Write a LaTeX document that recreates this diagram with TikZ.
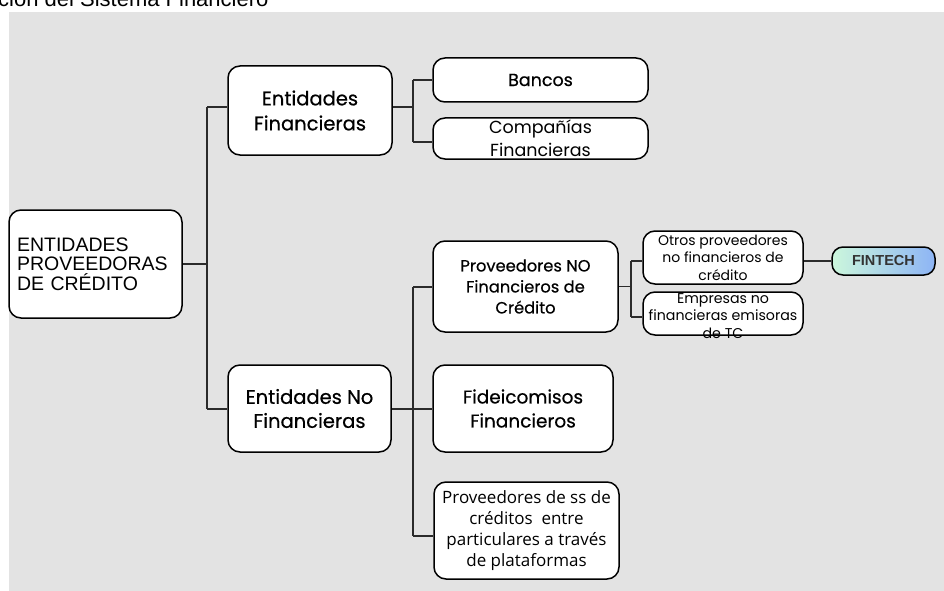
\documentclass[tikz,border=0pt]{standalone}
\usepackage{fontspec}
\setmainfont{Liberation Sans}
\newfontfamily\pop{Poppins}
\newfontfamily\popm[FakeBold=0.5]{Poppins}
\newfontfamily\osans{Open Sans}
\definecolor{bggray}{HTML}{E3E3E3}
\definecolor{linec}{HTML}{2B2B2B}
\definecolor{mint}{HTML}{CCF7DC}
\definecolor{skyb}{HTML}{8DB4F5}
\definecolor{txtd}{HTML}{333333}
\begin{document}
\begin{tikzpicture}[x=1pt,y=-1pt,
  box/.style={draw=black, line width=1.5pt, fill=white, rounded corners=12pt, inner sep=0pt, align=center},
  conn/.style={draw=linec, line width=1.8pt}]
\useasboundingbox (0,0) rectangle (944,591);
\fill[bggray] (9,12) rectangle (944,591);
\node[anchor=base west, inner sep=0pt, font=\fontsize{22}{26}\selectfont] (title) at (-2,7) {ción del Sistema Financiero};

\node[box, minimum width=173pt, minimum height=108pt, text width=157pt, align=left, font=\fontsize{19.5}{19.5}\selectfont] (root) at (95.5,264) {ENTIDADES\\PROVEEDORAS\\DE CRÉDITO};
\node[box, minimum width=164pt, minimum height=89pt, font=\popm\fontsize{19.5}{25}\selectfont] (EF) at (310,110.5) {Entidades\\Financieras};
\node[box, minimum width=163pt, minimum height=87pt, font=\popm\fontsize{19.5}{24}\selectfont] (EN) at (309.5,408.5) {Entidades No\\Financieras};
\node[box, minimum width=215pt, minimum height=44pt, font=\popm\fontsize{17.5}{22}\selectfont] (BA) at (540.5,80) {Bancos};
\node[box, minimum width=215pt, minimum height=41pt, font=\pop\fontsize{17.5}{23}\selectfont] (CF) at (540.5,138.5) {Compañías\\Financieras};
\node[box, minimum width=185pt, minimum height=91pt, font=\popm\fontsize{16.3}{21}\selectfont] (PNO) at (525.5,286.5) {Proveedores NO\\Financieros de\\Crédito};
\node[box, minimum width=180pt, minimum height=87pt, font=\popm\fontsize{18.5}{24}\selectfont] (FID) at (523,408.5) {Fideicomisos\\Financieros};
\node[box, minimum width=185pt, minimum height=97pt, font=\osans\fontsize{17}{21}\selectfont] (PSS) at (526.5,530.5) {Proveedores de ss de\\créditos\ \ entre\\particulares a través\\de plataformas};
\node[box, minimum width=160pt, minimum height=53pt, font=\pop\fontsize{14}{17.5}\selectfont] (OT) at (723,257.5) {Otros proveedores\\no financieros de\\crédito};
\node[box, minimum width=160pt, minimum height=43pt] (EM) at (723,313.5) {};
\node[inner sep=0pt, align=center, font=\pop\fontsize{14.2}{17.5}\selectfont] (EMt) at (723,316) {Empresas no\\financieras emisoras\\de TC};
\node[box, minimum width=103pt, minimum height=28pt, rounded corners=11pt, left color=mint, right color=skyb, text=txtd, font=\bfseries\fontsize{14.5}{16}\selectfont] (FIN) at (883.5,261) {FINTECH};

% junctions
\coordinate (t1a) at (207,107);
\coordinate (t1b) at (207,409);
\coordinate (t2a) at (413,80);
\coordinate (t2b) at (413,142);
\coordinate (t3a) at (413,287);
\coordinate (t3b) at (413,536);
\coordinate (t4a) at (631,261);
\coordinate (t4b) at (631,317);

\draw[conn] (root.east) -- (root.east -| t1a);
\draw[conn] (t1a) -- (t1b);
\draw[conn] (t1a) -- (t1a -| EF.west);
\draw[conn] (t1b) -- (t1b -| EN.west);

\draw[conn] (EF.east |- t1a) -- (t2a |- t1a);
\draw[conn] (t2a) -- (t2b);
\draw[conn] (t2a) -- (t2a -| BA.west);
\draw[conn] (t2b) -- (t2b -| CF.west);

\draw[conn] (EN.east |- t1b) -- (FID.west |- t1b);
\draw[conn] (t3a) -- (t3b);
\draw[conn] (t3a) -- (t3a -| PNO.west);
\draw[conn] (t3b) -- (t3b -| PSS.west);

\draw[conn] (PNO.east) -- (PNO.east -| t4a);
\draw[conn] (t4a) -- (t4b);
\draw[conn] (t4a) -- (t4a -| OT.west);
\draw[conn] (t4b) -- (t4b -| EM.west);

\draw[conn] (FIN.west) -- (FIN.west -| OT.east);
\end{tikzpicture}
\end{document}
